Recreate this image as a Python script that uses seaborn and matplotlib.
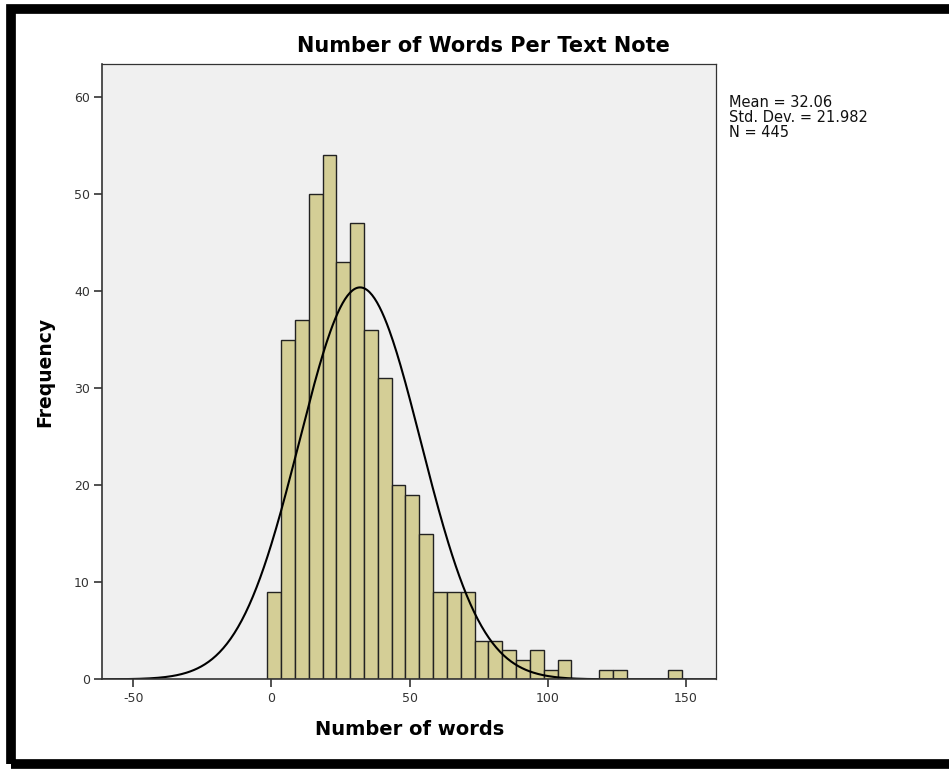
import numpy as np
import pandas as pd
import matplotlib
matplotlib.use("Agg")
import matplotlib.pyplot as plt
import matplotlib.patches as mpatches
import seaborn as sns

# bins of width 5 starting at -1.5 (SPSS-style histogram)
bin_starts = [-1.5, 3.5, 8.5, 13.5, 18.5, 23.5, 28.5, 33.5, 38.5, 43.5,
              48.5, 53.5, 58.5, 63.5, 68.5, 73.5, 78.5, 83.5, 88.5, 93.5,
              98.5, 103.5, 108.5, 113.5, 118.5, 123.5, 128.5, 133.5, 138.5, 143.5]
counts = [9, 35, 37, 50, 54, 43, 47, 36, 31, 20,
          19, 15, 9, 9, 9, 4, 4, 3, 2, 3,
          1, 2, 0, 0, 1, 1, 0, 0, 0, 1]
bin_width = 5

mean_words = 32.06
sd_words = 21.982
n_notes = 445

x_ticks = [-50, 0, 50, 100, 150]
y_ticks = [0, 10, 20, 30, 40, 50, 60]

df = pd.DataFrame({"center": np.array(bin_starts) + bin_width / 2, "count": counts})
edges = list(bin_starts) + [bin_starts[-1] + bin_width]

sns.set_theme(style="white")
plt.rcParams["font.family"] = ["DejaVu Sans"]
plt.rcParams["axes.unicode_minus"] = False

fig = plt.figure(figsize=(9.49, 7.69), dpi=100)
ax = fig.add_axes([0.108, 0.1166, 0.647, 0.8002])
ax.set_facecolor("#F0F0F0")

sns.histplot(data=df, x="center", weights="count", bins=edges, ax=ax,
             color="#D4CE96", alpha=1, edgecolor="#222222", linewidth=1.0)

# fitted normal curve
xs = np.linspace(-61, 161, 500)
ys = n_notes * bin_width * np.exp(-0.5 * ((xs - mean_words) / sd_words) ** 2) / (sd_words * np.sqrt(2 * np.pi))
sns.lineplot(x=xs, y=ys, ax=ax, color="black", linewidth=1.5)

ax.set_xlim(-61.1, 161)
ax.set_ylim(0, 63.4)
ax.set_xticks(x_ticks)
ax.set_yticks(y_ticks)
ax.tick_params(axis="both", direction="out", length=6, width=1.2, color="#333333",
               labelsize=9, labelcolor="#333333", bottom=True, left=True, pad=3)
for side, sp in ax.spines.items():
    sp.set_color("#333333")
    sp.set_linewidth(1.2 if side in ("left", "bottom") else 0.9)

# title is centred on the whole figure, not on the axes
fig.text(0.509, 0.933, "Number of Words Per Text Note", fontsize=15,
         fontweight="bold", ha="center", va="baseline", color="black")
ax.set_xlabel("Number of words", fontsize=14, fontweight="bold", labelpad=11, color="black")
ax.set_ylabel("Frequency", fontsize=13.5, fontweight="bold", labelpad=14, color="black")

fig.text(0.768, 0.876, f"Mean = {mean_words:.2f}\nStd. Dev. = {sd_words:.3f}\nN = {n_notes}",
         fontsize=10.5, va="top", ha="left", linespacing=1.0, color="#111111")

# black frame around the figure
frame = mpatches.Rectangle((0.0112, 0.006), 1.5, 0.9818, transform=fig.transFigure,
                           fill=False, edgecolor="black", linewidth=7, zorder=10)
fig.patches.append(frame)

fig.savefig("out.png", dpi=100)
